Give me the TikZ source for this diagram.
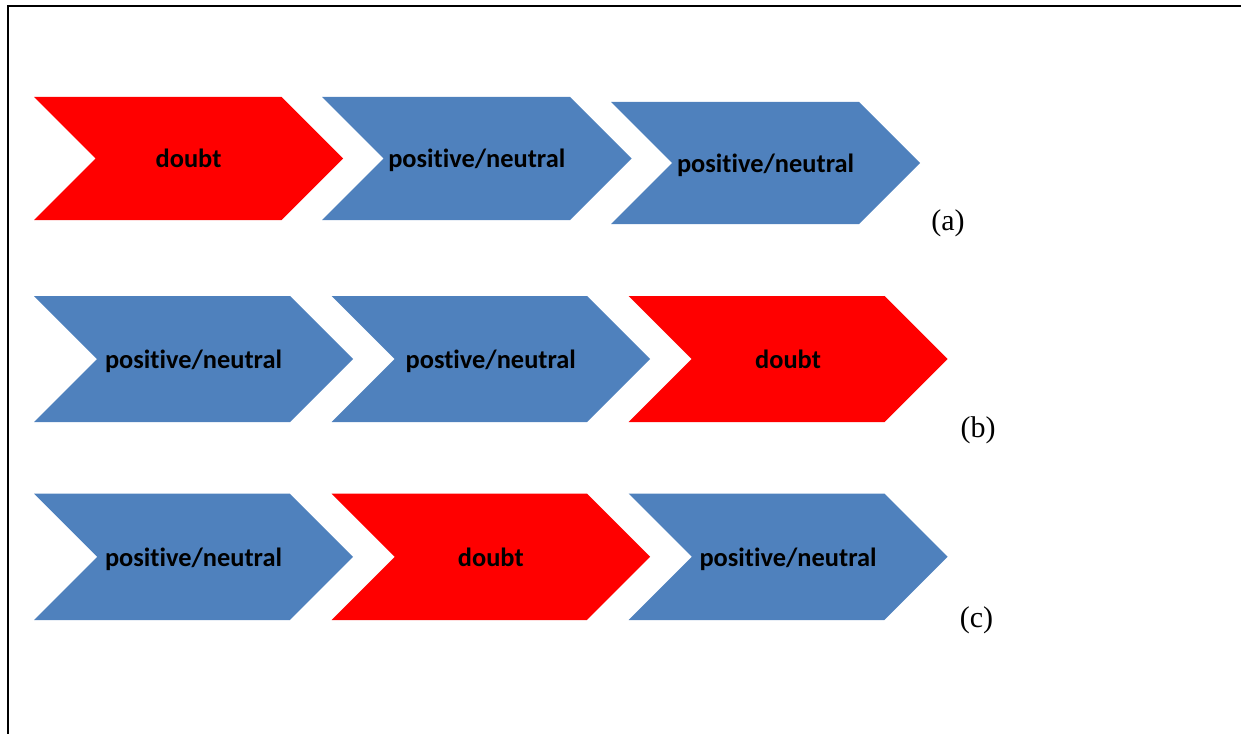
\documentclass[tikz,border=0pt]{standalone}
\usepackage{fontspec}
\setmainfont{Liberation Serif}
\newfontfamily\carl[Ligatures=NoCommon]{Carlito}
\definecolor{chblue}{HTML}{4F81BD}
\definecolor{chred}{HTML}{FF0000}
\tikzset{
  chlabel/.style={inner sep=0pt, text depth=0pt, font=\carl\bfseries\fontsize{26.4}{30}\selectfont, text=black},
  rowlabel/.style={inner sep=0pt, anchor=base, font=\fontsize{30}{34}\selectfont},
  frame/.style={line width=2pt, black}
}
\newcommand\chev[7]{%
  \pgfmathsetmacro\chd{(#4-#2)/2}%
  \pgfmathsetmacro\chm{(#4+#2)/2}%
  \fill[#5] (#1,#2) -- ({#3-\chd},#2) -- (#3,\chm) -- ({#3-\chd},#4) -- (#1,#4) -- ({#1+\chd},\chm) -- cycle;
  \node[chlabel] (#6) at ({(#1+#3)/2},\chm) {#7};%
}
\begin{document}
\begin{tikzpicture}[x=1pt,y=-1pt]
\useasboundingbox (0,0) rectangle (1241,733);
\draw[frame] (7.7,740) -- (7.7,5.7) -- (1250,5.7);
% row (a)
\chev{34}{97}{343}{220}{chred}{a1}{doubt}
\chev{322}{97}{631.5}{220}{chblue}{a2}{positive/neutral}
\chev{611}{102}{920}{224}{chblue}{a3}{positive/neutral}
\node[rowlabel] (la) at (948,230) {(a)};
% row (b)
\chev{34}{296}{353}{422}{chblue}{b1}{positive/neutral}
\chev{331.5}{296}{650}{422}{chblue}{b2}{postive/neutral}
\chev{628.5}{296}{947.5}{422}{chred}{b3}{doubt}
\node[rowlabel] (lb) at (978,437) {(b)};
% row (c)
\chev{34}{493.5}{353}{620}{chblue}{c1}{positive/neutral}
\chev{331.5}{493.5}{650}{620}{chred}{c2}{doubt}
\chev{628.5}{493.5}{947.5}{620}{chblue}{c3}{positive/neutral}
\node[rowlabel] (lc) at (976.5,627) {(c)};
\end{tikzpicture}
\end{document}
